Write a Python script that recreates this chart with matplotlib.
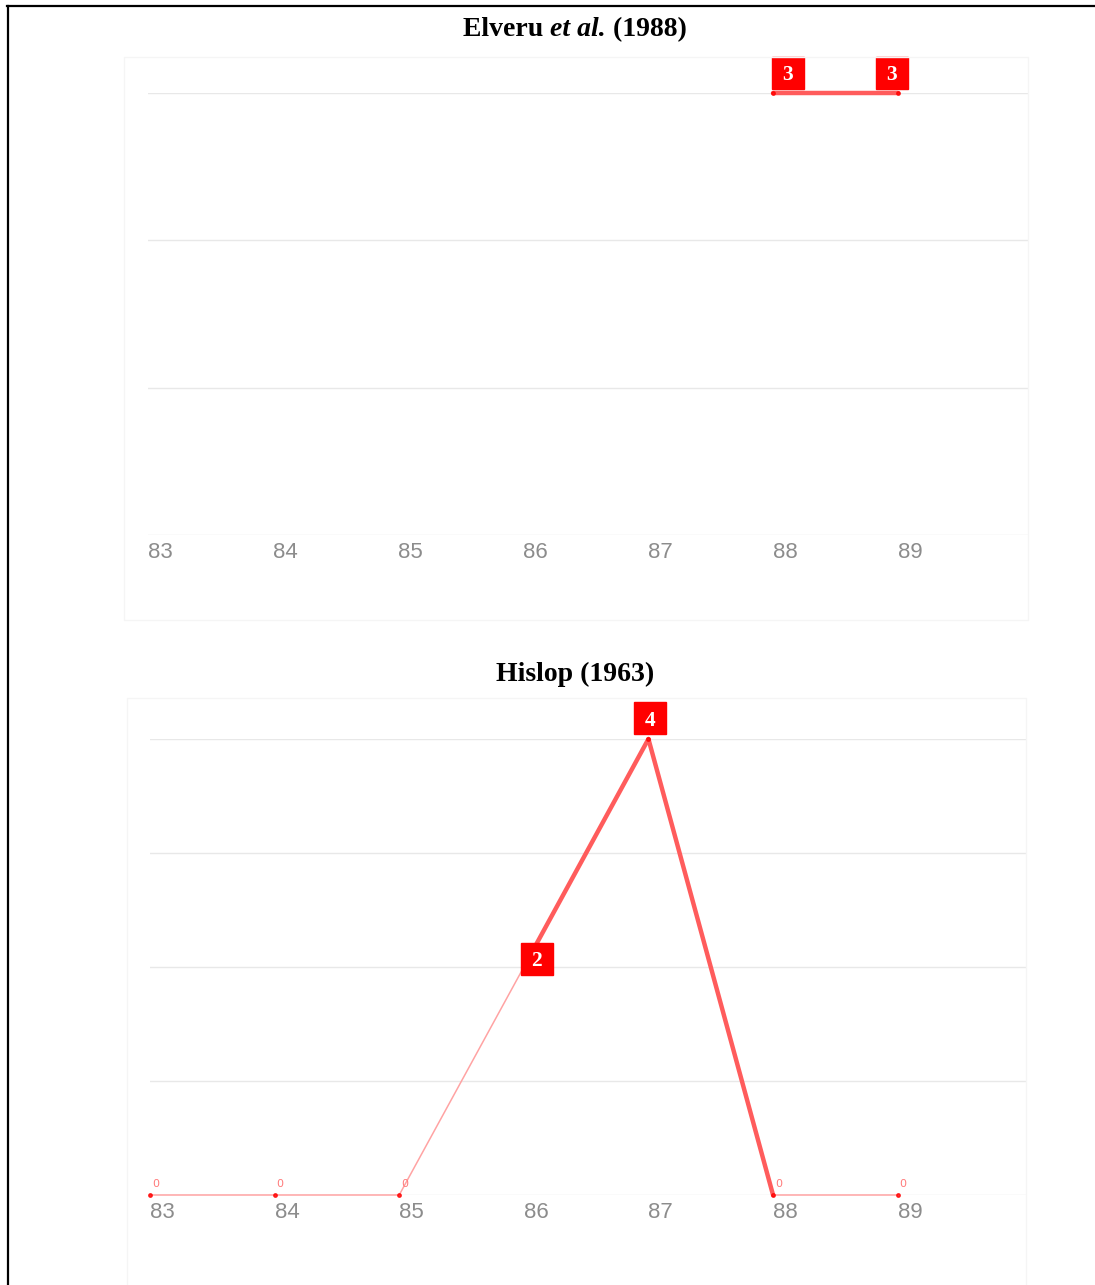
import matplotlib
matplotlib.use("Agg")
import matplotlib.pyplot as plt
from matplotlib.lines import Line2D
from matplotlib.patches import Rectangle
from matplotlib.transforms import offset_copy

W, H = 1095, 1285
DPI = 100

# ---- data ----
years_top = [88, 89]
values_top = [3, 3]
years_bottom = [83, 84, 85, 86, 87, 88, 89]
values_bottom = [0, 0, 0, 2, 4, 0, 0]
tick_labels = ["83", "84", "85", "86", "87", "88", "89"]
tick_years = [83, 84, 85, 86, 87, 88, 89]
title_top = ("Elveru ", "et al.", " (1988)")
title_bottom = "Hislop (1963)"

# label offsets (pixels) for nonzero value boxes, per point
offsets_top = [(15, 20), (-6, 20)]
offsets_bottom = [(0, 0), (0, 0), (0, 0), (13, 8), (2, 21), (0, 0), (0, 0)]

RED = "#ff0000"
THICK = "#ff5c5c"
THIN = "#ffa3a3"
GRID = "#e8e8e8"
TICK = "#8c8c8c"

fig = plt.figure(figsize=(W / DPI, H / DPI), dpi=DPI)
fig.patch.set_facecolor("white")


def px(x0, y0, x1, y1):
    return [x0 / W, 1 - y1 / H, (x1 - x0) / W, (y1 - y0) / H]


# faint panel backgrounds
fig.add_artist(Rectangle((124 / W, 1 - 620 / H), (1028 - 124) / W, (620 - 57) / H,
                         transform=fig.transFigure, facecolor="none",
                         edgecolor="#f5f5f5", lw=1))
fig.add_artist(Rectangle((127 / W, -0.01), (1026 - 127) / W, 0.01 + (1285 - 698) / H,
                         transform=fig.transFigure, facecolor="none",
                         edgecolor="#f5f5f5", lw=1))

# border lines
fig.add_artist(Line2D([7 / W, 1.0], [1 - 6 / H, 1 - 6 / H], transform=fig.transFigure,
                      color="black", lw=1.6))
fig.add_artist(Line2D([8 / W, 8 / W], [0, 1 - 6 / H], transform=fig.transFigure,
                      color="black", lw=1.6))


def setup_axes(ax, ymax, xmax):
    ax.set_xlim(83, xmax)
    ax.set_ylim(0, ymax)
    for s in ax.spines.values():
        s.set_visible(False)
    ax.set_yticks(range(0, ymax + 1))
    ax.set_yticklabels([])
    ax.tick_params(axis="y", length=0)
    ax.grid(axis="y", color=GRID, lw=1)
    ax.set_xticks(tick_years)
    ax.set_xticklabels(tick_labels, ha="left", color=TICK, fontsize=16,
                       fontfamily="Liberation Sans")
    ax.tick_params(axis="x", length=0, pad=5)
    ax.set_axisbelow(True)


def draw_series(ax, xs, ys, offsets):
    for i in range(len(xs) - 1):
        thick = ys[i] != 0
        ax.plot(xs[i:i + 2], ys[i:i + 2], color=THICK if thick else THIN,
                lw=3.2 if thick else 1.1, solid_capstyle="round", clip_on=False,
                zorder=3)
    ax.plot(xs, ys, "o", color=RED, ms=2.5, clip_on=False, zorder=4, alpha=0.8)
    for x, y, (dx, dy) in zip(xs, ys, offsets):
        if y == 0:
            ax.annotate("0", (x, y), xytext=(2, 6), textcoords="offset pixels",
                        ha="left", va="bottom", color="#ff7a7a", fontsize=8,
                        fontfamily="DejaVu Sans", annotation_clip=False)
        else:
            tr = offset_copy(ax.transData, fig=fig, x=dx, y=dy, units="dots")
            ax.plot([x], [y], marker="s", ms=22.5, color=RED, mec=RED,
                    transform=tr, clip_on=False, zorder=5)
            ax.text(x, y, str(y), transform=tr, ha="center", va="center_baseline",
                    color="white", fontsize=15.5, fontweight="bold",
                    fontfamily="Liberation Serif", clip_on=False, zorder=6)


# top chart
ax1 = fig.add_axes(px(148, 93, 1028, 535))
setup_axes(ax1, 3, 90.04)
draw_series(ax1, years_top, values_top, offsets_top)

# bottom chart
ax2 = fig.add_axes(px(150, 739, 1026, 1195))
setup_axes(ax2, 4, 90.03)
draw_series(ax2, years_bottom, values_bottom, offsets_bottom)

# titles
fig.canvas.draw()
renderer = fig.canvas.get_renderer()
tfs = 20
ty = 1 - 29.5 / H
parts = [fig.text(0, ty, title_top[0], fontsize=tfs, fontweight="bold",
                  fontfamily="Liberation Serif", va="center"),
         fig.text(0, ty, title_top[1], fontsize=tfs, fontweight="bold",
                  style="italic", fontfamily="Liberation Serif", va="center"),
         fig.text(0, ty, title_top[2], fontsize=tfs, fontweight="bold",
                  fontfamily="Liberation Serif", va="center")]
widths = [p.get_window_extent(renderer).width for p in parts]
total = sum(widths)
x = 575 - total / 2
for p, w in zip(parts, widths):
    p.set_x(x / W)
    x += w
fig.text(575 / W, 1 - 674.5 / H, title_bottom, fontsize=tfs, fontweight="bold",
         fontfamily="Liberation Serif", ha="center", va="center")

fig.savefig("out.png", dpi=DPI, facecolor="white")
